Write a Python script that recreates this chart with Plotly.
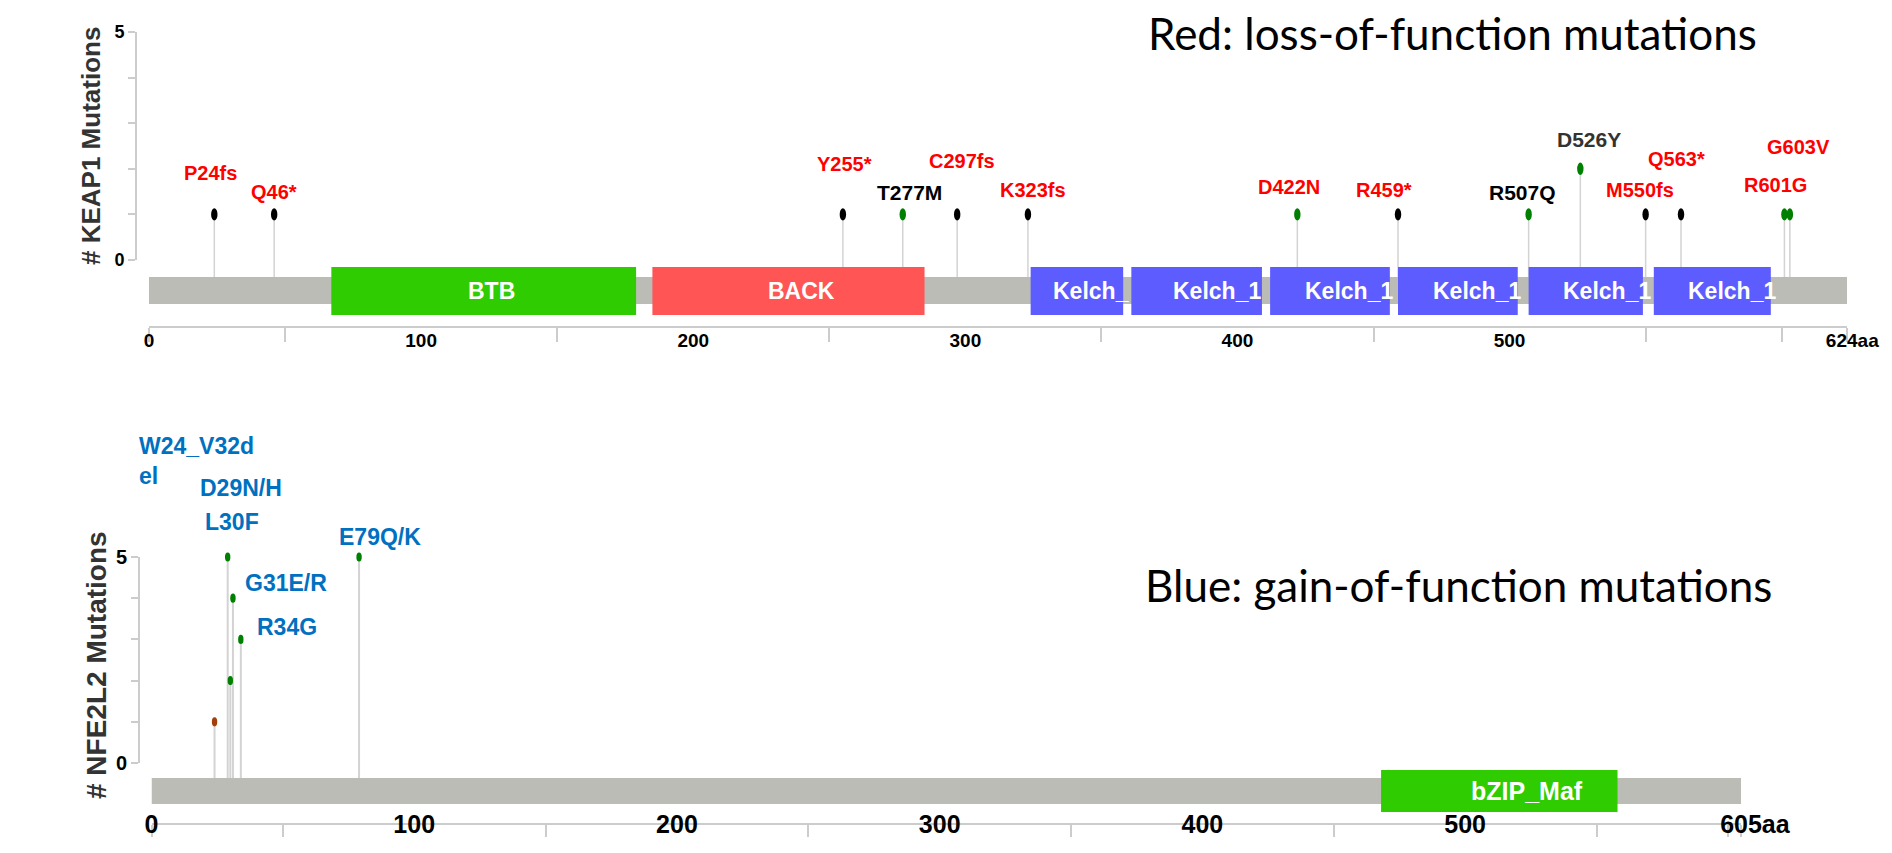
import plotly.graph_objects as go

# ---------------- data ----------------
keap1_length = 624
keap1_domain_names = ["BTB", "BACK", "Kelch_1", "Kelch_1", "Kelch_1", "Kelch_1", "Kelch_1", "Kelch_1"]
keap1_domain_text = ["BTB", "BACK", "Kelch_", "Kelch_1", "Kelch_1", "Kelch_1", "Kelch_1", "Kelch_1"]
keap1_domain_start = [67, 185, 324, 361, 412, 459, 507, 553]
keap1_domain_end = [179, 285, 358, 409, 456, 503, 549, 596]
keap1_mut_labels = ["P24fs", "Q46*", "Y255*", "T277M", "C297fs", "K323fs", "D422N",
                    "R459*", "R507Q", "D526Y", "M550fs", "Q563*", "R601G", "G603V"]
keap1_mut_pos = [24, 46, 255, 277, 297, 323, 422, 459, 507, 526, 550, 563, 601, 603]
keap1_mut_count = [1, 1, 1, 1, 1, 1, 1, 1, 1, 2, 1, 1, 1, 1]
keap1_mut_type = ["truncating", "truncating", "truncating", "missense", "truncating", "truncating",
                  "missense", "truncating", "missense", "missense", "truncating", "truncating",
                  "missense", "missense"]
keap1_mut_effect = ["loss", "loss", "loss", "unknown", "loss", "loss", "loss",
                    "loss", "unknown", "uncertain", "loss", "loss", "loss", "loss"]

nfe2l2_length = 605
nfe2l2_domain_names = ["bZIP_Maf"]
nfe2l2_domain_text = ["bZIP_Maf"]
nfe2l2_domain_start = [468]
nfe2l2_domain_end = [558]
nfe2l2_mut_labels = ["W24_V32d<br>el", "D29N/H", "L30F", "G31E/R", "R34G", "E79Q/K"]
nfe2l2_mut_pos = [24, 29, 30, 31, 34, 79]
nfe2l2_mut_count = [1, 5, 2, 4, 3, 5]
nfe2l2_mut_type = ["inframe", "missense", "missense", "missense", "missense", "missense"]
nfe2l2_mut_effect = ["gain", "gain", "gain", "gain", "gain", "gain"]

# ---------------- style ----------------
PAGE_W, PAGE_H = 1892, 853
BODY_MARGIN = 8
W, H = PAGE_W - 2 * BODY_MARGIN, PAGE_H - 2 * BODY_MARGIN
FONT = "Liberation Sans, Arial, sans-serif"
HEAD_COLORS = {"truncating": "#000000", "missense": "#008000", "inframe": "#a33f0b"}
EFFECT_COLORS = {"loss": "#ff0000", "unknown": "#000000", "uncertain": "#333333", "gain": "#0070c0"}
AXIS_GRAY = "#cccccc"
STEM_GRAY = "#d3d3d3"
BAR_GRAY = "#babcb5"


def fx(px):
    # page pixel -> paper fraction (figure sits inside the default 8px body margin)
    return (px - BODY_MARGIN) / W


def fy(py):
    return 1 - (py - BODY_MARGIN) / H


panels = [
    dict(gene="KEAP1", length=keap1_length, names=keap1_domain_names, dtext=keap1_domain_text,
         dstart=keap1_domain_start, dend=keap1_domain_end,
         dcolors=["#2ecc00", "#ff5555"] + ["#5c5cff"] * 6,
         dshift=[135, 114, 20, 40, 33, 33, 32, 32], dfont=23,
         labels=keap1_mut_labels, pos=keap1_mut_pos, cnt=keap1_mut_count,
         types=keap1_mut_type, effect=keap1_mut_effect,
         lshift=[(-4, 41), (0, 22), (2, 50), (7, 22), (5, 53), (5, 24), (-8, 27),
                 (-14, 24), (-6, 22), (9, 29), (-6, 24), (-5, 55), (-9, 29), (9, 67)],
         lanchor=["center"] * 14, lfont=20,
         x0=149, x1=1847, zero=260, unit=45.6, axis=326, top=8, yax=136,
         bar=(277, 304), dom=(267, 315), head=(3.2, 6.2), stemw=1.5,
         xa="x", ya="y", yc="y2", xkey="xaxis", yakey="yaxis", yckey="yaxis2",
         tickfont=19, ytickfont=18, ticklen=14, standoff=-4, endpad="\u2007",
         title="# KEAP1 Mutations", title_xy=(91, 146), title_size=26),
    dict(gene="NFE2L2", length=nfe2l2_length, names=nfe2l2_domain_names, dtext=nfe2l2_domain_text,
         dstart=nfe2l2_domain_start, dend=nfe2l2_domain_end,
         dcolors=["#2ecc00"], dshift=[88], dfont=25,
         labels=nfe2l2_mut_labels, pos=nfe2l2_mut_pos, cnt=nfe2l2_mut_count,
         types=nfe2l2_mut_type, effect=nfe2l2_mut_effect,
         lshift=[(-78, 261), (13, 69), (2, 159), (53, 15), (46, 12), (21, 20)],
         lanchor=["left", "center", "center", "center", "center", "center"], lfont=23,
         x0=151.5, x1=1741, zero=763, unit=41.2, axis=823, top=360, yax=139,
         bar=(778, 804), dom=(770, 812), head=(2.7, 4.6), stemw=2,
         xa="x2", ya="y3", yc="y4", xkey="xaxis2", yakey="yaxis3", yckey="yaxis4",
         tickfont=25, ytickfont=20, ticklen=12, standoff=-22, endpad="\u2007\u2007",
         title="# NFE2L2 Mutations", title_xy=(96, 665), title_size=28),
]

fig = go.Figure()
layout = dict(width=W, height=H, margin=dict(l=0, r=0, t=0, b=0, pad=0, autoexpand=False),
              plot_bgcolor="rgba(0,0,0,0)", paper_bgcolor="white", showlegend=False)
shapes = []
annotations = []

for P in panels:
    def val(py, P=P):
        return (P["zero"] - py) / P["unit"]

    L = P["length"]
    major = [v for v in range(0, L, 100) if L - v > 60] + [L]
    major_text = [str(v) for v in major[:-1]] + [P["endpad"] + str(L) + "aa"]
    minor = [0] + list(range(50, L, 100)) + [600, L]

    layout[P["xkey"]] = dict(
        domain=[fx(P["x0"]), fx(P["x1"])], range=[0, L], anchor=P["ya"], automargin=False,
        showline=True, linecolor=AXIS_GRAY, linewidth=2, showgrid=False, zeroline=False,
        tickmode="array", tickvals=major, ticktext=major_text, ticks="",
        ticklabelstandoff=P["standoff"],
        tickfont=dict(family=FONT, size=P["tickfont"], color="black", weight="bold"),
        minor=dict(tickmode="array", tickvals=minor, ticks="outside", ticklen=P["ticklen"],
                   tickcolor=AXIS_GRAY, tickwidth=2, showgrid=False),
        fixedrange=True)
    layout[P["yakey"]] = dict(domain=[fy(P["axis"]), fy(P["top"])],
                              range=[val(P["axis"]), val(P["top"])], automargin=False,
                              anchor=P["xa"], visible=False, fixedrange=True)
    layout[P["yckey"]] = dict(
        domain=[fy(P["zero"]), fy(P["zero"] - 5 * P["unit"])], range=[0, 5], automargin=False,
        anchor="free", position=fx(P["yax"]), showline=True, linecolor=AXIS_GRAY, linewidth=2,
        showgrid=False, zeroline=False, tickmode="array", tickvals=[0, 1, 2, 3, 4, 5],
        ticktext=["0", "", "", "", "", "5"], ticks="outside", ticklen=7,
        tickcolor=AXIS_GRAY, tickwidth=2,
        tickfont=dict(family=FONT, size=P["ytickfont"], color="black", weight="bold"),
        fixedrange=True)

    # stems
    bar_top = val(P["bar"][0])
    sx, sy = [], []
    for p, c in zip(P["pos"], P["cnt"]):
        sx += [p, p, None]
        sy += [c, bar_top, None]
    fig.add_trace(go.Scatter(x=sx, y=sy, mode="lines", xaxis=P["xa"], yaxis=P["ya"],
                             line=dict(color=STEM_GRAY, width=P["stemw"]), hoverinfo="skip"))
    # hover carriers on the count axis
    fig.add_trace(go.Scatter(x=P["pos"], y=P["cnt"], mode="markers", xaxis=P["xa"], yaxis=P["yc"],
                             marker=dict(size=8, opacity=0), cliponaxis=False,
                             text=[t.replace("<br>", "") for t in P["labels"]],
                             hovertemplate="%{text}: %{y}<extra>" + P["gene"] + "</extra>"))

    # protein backbone
    shapes.append(dict(type="rect", xref=P["xa"], yref=P["ya"], x0=0, x1=L,
                       y0=val(P["bar"][1]), y1=val(P["bar"][0]),
                       fillcolor=BAR_GRAY, line=dict(width=0), layer="above"))
    # domains
    for s, e, col, txt, sh in zip(P["dstart"], P["dend"], P["dcolors"], P["dtext"], P["dshift"]):
        shapes.append(dict(type="rect", xref=P["xa"], yref=P["ya"], x0=s, x1=e,
                           y0=val(P["dom"][1]), y1=val(P["dom"][0]),
                           fillcolor=col, line=dict(width=0), layer="above"))
        annotations.append(dict(x=s, y=val((P["dom"][0] + P["dom"][1]) / 2), xref=P["xa"],
                                yref=P["ya"], text=txt, showarrow=False, xanchor="left",
                                yanchor="middle", xshift=sh,
                                font=dict(family=FONT, size=P["dfont"], color="white", weight="bold")))
    # heads
    hw, hh = P["head"]
    for p, c, t in zip(P["pos"], P["cnt"], P["types"]):
        shapes.append(dict(type="circle", xref=P["xa"], yref=P["ya"], xsizemode="pixel",
                           ysizemode="pixel", xanchor=p, yanchor=c, x0=-hw, x1=hw, y0=-hh, y1=hh,
                           fillcolor=HEAD_COLORS[t], line=dict(width=0), layer="above"))
    # mutation labels
    for lab, p, c, eff, (dx, dy), anc in zip(P["labels"], P["pos"], P["cnt"], P["effect"],
                                              P["lshift"], P["lanchor"]):
        size = P["lfont"] if eff in ("loss", "gain") else P["lfont"] + 1
        annotations.append(dict(x=p, y=c, xref=P["xa"], yref=P["ya"], text=lab, showarrow=False,
                                xanchor=anc, yanchor="middle", align="left", xshift=dx, yshift=dy,
                                font=dict(family=FONT, size=size, color=EFFECT_COLORS[eff],
                                          weight="bold")))
    # y axis title
    tx, ty = P["title_xy"]
    annotations.append(dict(x=fx(tx), y=fy(ty), xref="paper", yref="paper", text=P["title"],
                            showarrow=False, textangle=-90, xanchor="center", yanchor="middle",
                            font=dict(family=FONT, size=P["title_size"], color="#333333",
                                      weight="bold")))

# slide captions
annotations.append(dict(x=fx(1146), y=fy(33), xref="paper", yref="paper",
                        text="Red: loss-of-function mutations", showarrow=False,
                        xanchor="left", yanchor="middle",
                        font=dict(family="Lato, sans-serif", size=44, color="black")))
annotations.append(dict(x=fx(1143), y=fy(585), xref="paper", yref="paper",
                        text="Blue: gain-of-function mutations", showarrow=False,
                        xanchor="left", yanchor="middle",
                        font=dict(family="Lato, sans-serif", size=44, color="black")))

layout["shapes"] = shapes
layout["annotations"] = annotations
fig.update_layout(**layout)

fig.write_html("out.html", config={"displayModeBar": False})
